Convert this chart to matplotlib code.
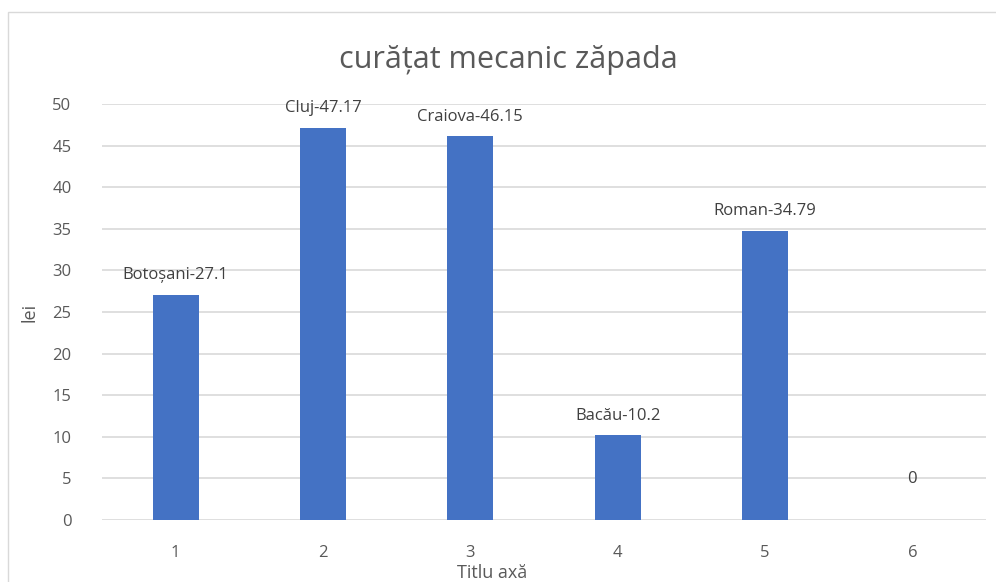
import matplotlib
matplotlib.use("Agg")
from matplotlib import pyplot as plt
from matplotlib.patches import Rectangle

categorii = [1, 2, 3, 4, 5, 6]
valori = [27.1, 47.17, 46.15, 10.2, 34.79, 0]
etichete = ["Botoșani-27.1", "Cluj-47.17", "Craiova-46.15", "Bacău-10.2", "Roman-34.79", "0"]
y_ticks = list(range(0, 55, 5))

plt.rcParams['font.family'] = ['Open Sans', 'DejaVu Sans']
gri = '#595959'


def main():
    fig = plt.figure(figsize=(9.96, 5.82), dpi=100)
    # chenarul graficului (iese din imagine la dreapta si jos)
    fig.patches.append(Rectangle((8 / 996, -0.1), 1.2, 1 - 12 / 582 + 0.1,
                                 transform=fig.transFigure, fill=False,
                                 edgecolor='#d9d9d9', linewidth=1))
    ax = fig.add_axes([102 / 996, 1 - 520 / 582, 884 / 996, 416 / 582])

    ax.bar(categorii, valori, width=0.31, color='#4472C4', zorder=3)
    for x, v, t in zip(categorii, valori, etichete):
        ax.annotate(t, (x, v), xytext=(0, 8 if v > 0 else 24), textcoords='offset points',
                    ha='center', va='bottom', fontsize=12, color='#404040')

    ax.set_xlim(0.5, 6.5)
    ax.set_ylim(0, 50)
    ax.set_xticks(categorii)
    ax.set_yticks(y_ticks)
    ax.grid(axis='y', color='#d9d9d9', linewidth=1.2, zorder=0)
    for s in ax.spines.values():
        s.set_visible(False)
    ax.tick_params(axis='both', length=0, labelsize=12, labelcolor=gri)
    ax.tick_params(axis='x', pad=18)
    ax.tick_params(axis='y', pad=22)

    ax.set_ylabel("lei", fontsize=13, color=gri, labelpad=10)
    ax.set_xlabel("Titlu axă", fontsize=13, color=gri, va='center')
    ax.xaxis.set_label_coords((492 - 102) / 884, -(573 - 520) / 416)
    fig.text(508 / 996, 1 - 60 / 582, "curățat mecanic zăpada", ha='center', va='center',
             fontsize=22, color=gri)

    fig.savefig("out.png", dpi=100)


if __name__ == "__main__":
    main()
